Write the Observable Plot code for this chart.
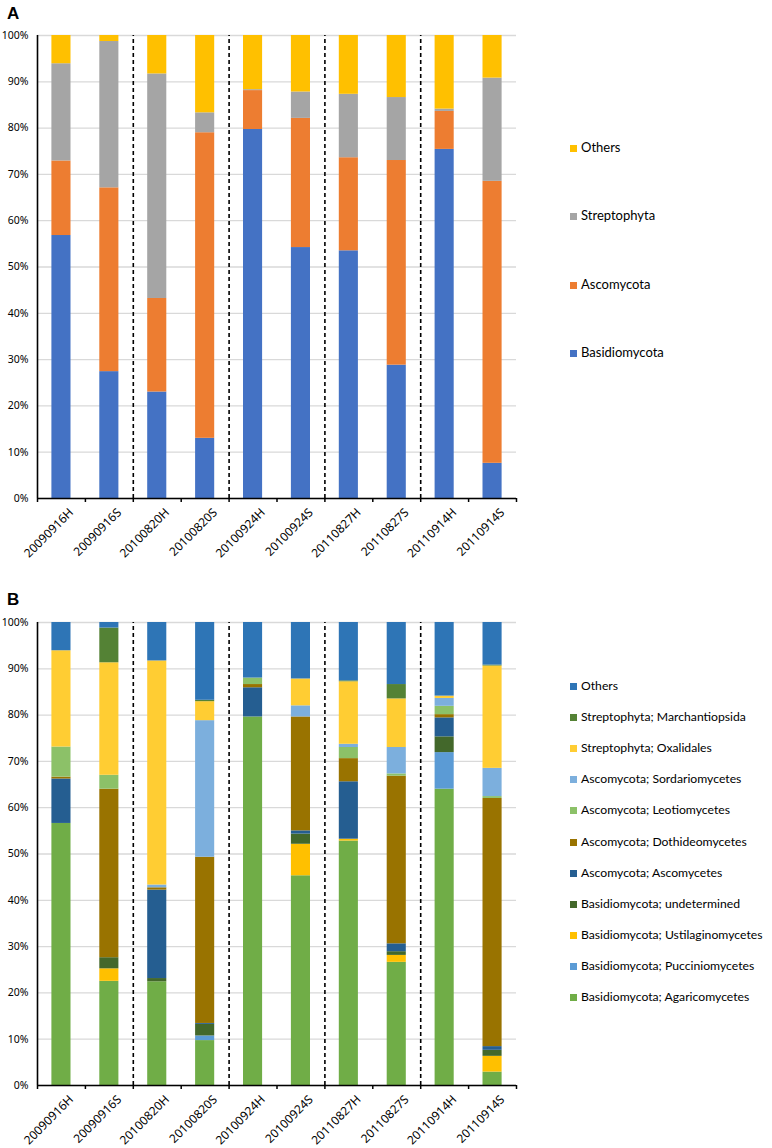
<!DOCTYPE html>
<html>
<head>
<meta charset="utf-8">
<script src="https://cdn.jsdelivr.net/npm/d3@7"></script>
<script src="https://cdn.jsdelivr.net/npm/@observablehq/plot@0.6"></script>
<style>
  body { margin: 0; background: #fff; }
  #page { position: relative; width: 772px; height: 1148px; overflow: hidden; background: #fff; }
  .panel-label { position: absolute; font: bold 17px "Liberation Sans", Arial, sans-serif; color: #000; }
  .chart { position: absolute; left: 0; }
  .legend-item { position: absolute; left: 570px; height: 16px; line-height: 16px; font-family: Lato, "Open Sans", sans-serif; color: #000; white-space: nowrap; }
  .legend-item span.sw { display: inline-block; width: 7px; height: 7px; margin-right: 4px; vertical-align: 0px; }
</style>
</head>
<body>
<div id="page">
  <div class="panel-label" style="left:7px; top:4px;">A</div>
  <div class="panel-label" style="left:7px; top:590px;">B</div>
  <div id="chartA" class="chart" style="top:0px;"></div>
  <div id="chartB" class="chart" style="top:575px;"></div>
  <div id="legendA"></div>
  <div id="legendB"></div>
</div>
<script>
// ---------- data ----------
const samples = ["20090916H","20090916S","20100820H","20100820S","20100924H","20100924S","20110827H","20110827S","20110914H","20110914S"];

const yTicks = [0,10,20,30,40,50,60,70,80,90,100];

// Panel A (phylum level, % of reads)
const phylaA = ["Basidiomycota","Ascomycota","Streptophyta","Others"];
const basidiomycota = [56.8, 27.4, 23.0, 13.0, 79.7, 54.2, 53.5, 28.8, 75.4, 7.6];
const ascomycota    = [16.1, 39.7, 20.2, 66.0,  8.4, 27.9, 20.1, 44.2,  8.2, 60.9];
const streptophyta  = [21.0, 31.6, 48.5,  4.3,  0.2,  5.7, 13.7, 13.6,  0.5, 22.3];
const othersA       = [ 6.1,  1.3,  8.3, 16.7, 11.7, 12.2, 12.7, 13.4, 15.9,  9.2];
const colorsA = ["#4472C4","#ED7D31","#A5A5A5","#FFC000"];

// Panel B (class level, % of reads)
const groupsB = [
  "Basidiomycota; Agaricomycetes",
  "Basidiomycota; Pucciniomycetes",
  "Basidiomycota; Ustilaginomycetes",
  "Basidiomycota; undetermined",
  "Ascomycota; Ascomycetes",
  "Ascomycota; Dothideomycetes",
  "Ascomycota; Leotiomycetes",
  "Ascomycota; Sordariomycetes",
  "Streptophyta; Oxalidales",
  "Streptophyta; Marchantiopsida",
  "Others"
];
const agaricomycetes    = [56.6, 22.5, 22.4,  9.7, 79.6, 45.3, 52.8, 26.6, 64.0,  2.9];
const pucciniomycetes   = [ 0.0,  0.0,  0.0,  1.0,  0.0,  0.0,  0.0,  0.0,  7.9,  0.0];
const ustilaginomycetes = [ 0.0,  2.7,  0.0,  0.0,  0.0,  6.8,  0.4,  1.5,  0.0,  3.4];
const undetermined      = [ 0.0,  2.4,  0.7,  2.5,  0.0,  2.2,  0.0,  0.8,  3.4,  1.3];
const ascomycetes       = [ 9.6,  0.0, 19.1,  0.2,  6.3,  0.7, 12.4,  1.7,  4.1,  0.8];
const dothideomycetes   = [ 0.4, 36.4,  0.5, 35.9,  0.7, 24.6,  5.0, 36.2,  0.7, 53.6];
const leotiomycetes     = [ 6.5,  3.0,  0.0,  0.0,  1.4,  0.0,  2.4,  0.5,  1.8,  0.4];
const sordariomycetes   = [ 0.0,  0.0,  0.6, 29.5,  0.0,  2.4,  0.7,  5.7,  1.7,  6.1];
const oxalidales        = [20.8, 24.3, 48.4,  4.1,  0.0,  5.8, 13.5, 10.5,  0.5, 22.1];
const marchantiopsida   = [ 0.0,  7.5,  0.0,  0.3,  0.0,  0.0,  0.2,  3.1,  0.0,  0.2];
const othersB           = [ 6.1,  1.2,  8.3, 16.8, 12.0, 12.2, 12.6, 13.4, 15.9,  9.2];
const colorsB = ["#70AD47","#5B9BD5","#FFC000","#43682B","#255E91","#997300","#8CC168","#7CAFDD","#FFCD33","#548235","#2E75B6"];

// ---------- build ----------
function tidy(names, valueArrays) {
  return names.flatMap((s, k) => samples.map((sample, i) => ({sample, i, series: s, value: valueArrays[k][i]})));
}
const dataA = tidy(phylaA, [basidiomycota, ascomycota, streptophyta, othersA]);
const dataB = tidy(groupsB, [agaricomycetes, pucciniomycetes, ustilaginomycetes, undetermined, ascomycetes,
                             dothideomycetes, leotiomycetes, sordariomycetes, oxalidales, marchantiopsida, othersB]);

// dashed separators where the sampling date changes
const separators = samples.map((s, i) => i).filter(i => i > 0 && samples[i].slice(0, 8) !== samples[i - 1].slice(0, 8));
const boundaries = d3.range(0, samples.length + 1);

function makeChart(data, names, colors, height, marginTop, marginBottom) {
  return Plot.plot({
    width: 772,
    height,
    marginLeft: 37,
    marginRight: 256,
    marginTop,
    marginBottom,
    style: {background: "transparent", overflow: "visible"},
    x: {domain: [0, samples.length], axis: null},
    y: {domain: [0, 100], axis: null},
    color: {domain: names, range: colors},
    marks: [
      Plot.gridY(yTicks, {stroke: "#d9d9d9", strokeOpacity: 1, strokeWidth: 1.3}),
      Plot.rectY(data, Plot.stackY({
        x1: "i", x2: d => d.i + 1, y: "value", fill: "series", order: names,
        insetLeft: 14.4, insetRight: 14.4
      })),
      Plot.ruleX(separators, {y1: 0, y2: 100, stroke: "#000", strokeWidth: 1.6, strokeDasharray: "4,3"}),
      Plot.ruleX([0], {y1: 0, y2: 100, stroke: "#000", strokeWidth: 1.6}),
      Plot.ruleY([0], {stroke: "#000", strokeWidth: 1.6}),
      Plot.axisY({ticks: yTicks, tickFormat: d => d + "%", tickSize: 0, tickPadding: 9,
                  fontSize: 10.5, fontFamily: "'Noto Sans', sans-serif", fill: "#000", label: null}),
      Plot.axisX({ticks: boundaries, tickFormat: () => "", tickSize: 4, stroke: "#000", strokeWidth: 1.5, label: null}),
      Plot.text(samples, {x: (d, i) => i + 0.5, y: 0, text: d => d, rotate: -45, textAnchor: "end",
                          dx: 10, dy: 12, fontSize: 12, fontFamily: "'Noto Sans', sans-serif", fill: "#000"})
    ]
  });
}

document.getElementById("chartA").appendChild(makeChart(dataA, phylaA, colorsA, 570, 35, 72));
document.getElementById("chartB").appendChild(makeChart(dataB, groupsB, colorsB, 573, 47, 63));

function legend(containerId, names, colors, topFirst, step, fontSize) {
  const el = document.getElementById(containerId);
  // legend lists series top-to-bottom in reverse stacking order
  const rev = names.map((n, k) => ({n, c: colors[k]})).reverse();
  rev.forEach((d, j) => {
    const item = document.createElement("div");
    item.className = "legend-item";
    item.style.top = (topFirst + j * step - 8) + "px";
    item.style.fontSize = fontSize + "px";
    const sw = document.createElement("span");
    sw.className = "sw";
    sw.style.background = d.c;
    item.appendChild(sw);
    item.appendChild(document.createTextNode(d.n));
    el.appendChild(item);
  });
}
legend("legendA", phylaA, colorsA, 147, 68.3, 13);
legend("legendB", groupsB, colorsB, 686, 31.1, 12.2);
</script>
</body>
</html>
